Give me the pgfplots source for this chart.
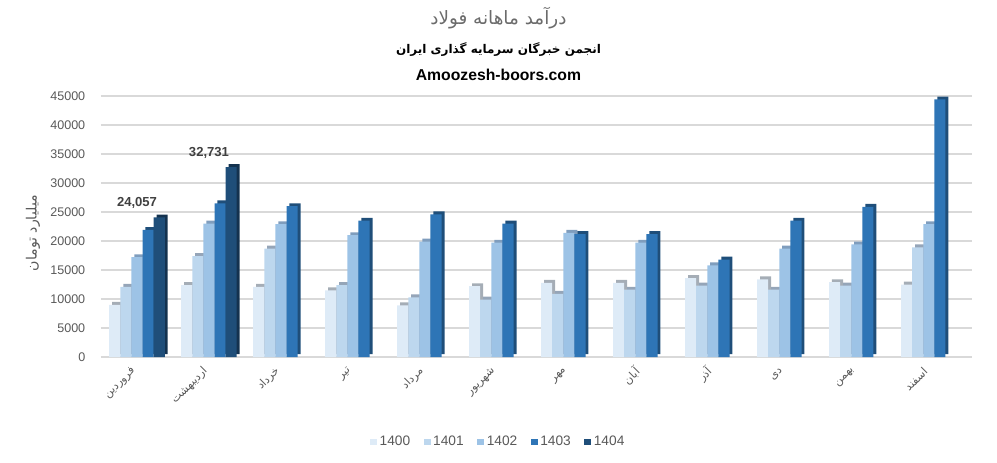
\documentclass[border=0pt]{standalone}
\usepackage{fontspec}
\setmainfont{Liberation Sans}
\newfontfamily\arabicfont[Script=Arabic]{DejaVu Sans}
\usepackage{pgfplots}
\pgfplotsset{compat=1.18}
\TeXXeTstate=1

% front faces of the bars
\definecolor{cA}{HTML}{DEEBF7}
\definecolor{cB}{HTML}{BDD7EE}
\definecolor{cC}{HTML}{9DC3E6}
\definecolor{cD}{HTML}{2E75B6}
\definecolor{cE}{HTML}{1F4E79}
% top/side faces (depth of the columns)
\definecolor{sA}{HTML}{A5ADB6}
\definecolor{sB}{HTML}{95A5B8}
\definecolor{sC}{HTML}{7F9DBD}
\definecolor{sD}{HTML}{1F4E79}
\definecolor{sE}{HTML}{14324F}
\definecolor{txt}{HTML}{595959}
\definecolor{gridc}{HTML}{D9D9D9}

% monthly revenue, billion toman (0 = Farvardin ... 11 = Esfand)
\newcommand{\dA}{(0,9000) (1,12400) (2,12100) (3,11500) (4,8900) (5,12200) (6,12800) (7,12800) (8,13600) (9,13400) (10,12900) (11,12500)}
\newcommand{\dB}{(0,12100) (1,17400) (2,18700) (3,12400) (4,10300) (5,9900) (6,10900) (7,11600) (8,12300) (9,11600) (10,12300) (11,18900)}
\newcommand{\dC}{(0,17200) (1,23000) (2,22900) (3,21000) (4,19900) (5,19700) (6,21400) (7,19700) (8,15800) (9,18700) (10,19400) (11,22900)}
\newcommand{\dD}{(0,21900) (1,26500) (2,26000) (3,23500) (4,24600) (5,23000) (6,21200) (7,21200) (8,16800) (9,23500) (10,25900) (11,44400)}
\newcommand{\dE}{(0,24057) (1,32731)}

\begin{document}
\begin{tikzpicture}
\begin{axis}[
  at={(0,0)}, anchor=south west,
  scale only axis, width=653.25pt, height=195.75pt,
  xmin=-0.5, xmax=11.6, ymin=0, ymax=45000,
  clip=false,
  scaled y ticks=false,
  ytick={0,5000,...,45000},
  xtick={0,...,11},
  xticklabels={{\arabicfont\beginR فروردین\endR},{\arabicfont\beginR اردیبهشت\endR},{\arabicfont\beginR خرداد\endR},{\arabicfont\beginR تیر\endR},{\arabicfont\beginR مرداد\endR},{\arabicfont\beginR شهریور\endR},{\arabicfont\beginR مهر\endR},{\arabicfont\beginR آبان\endR},{\arabicfont\beginR آذر\endR},{\arabicfont\beginR دی\endR},{\arabicfont\beginR بهمن\endR},{\arabicfont\beginR اسفند\endR}},
  xticklabel style={yshift=-7pt, xshift=0pt, rotate=45, anchor=east, font=\fontsize{8.3}{10}\selectfont, text=txt},
  yticklabel style={font=\fontsize{9.4}{11}\selectfont, text=txt, xshift=-8.3pt},
  /pgf/number format/assume math mode=true,
  /pgf/number format/1000 sep={},
  ymajorgrids, grid style={color=gridc, line width=1.1pt},
  axis line style={draw=none},
  major tick length=0pt,
  ylabel={\arabicfont\beginR میلیارد تومان\endR},
  ylabel style={font=\fontsize{10.6}{12}\selectfont, text=txt, at={(-51pt,93pt)}, anchor=center, rotate=0},
  legend columns=5,
  legend style={draw=none, fill=none, at={(0.4564,-0.3257)}, anchor=center,
    font=\fontsize{10.3}{12}\selectfont, text=txt,
    /tikz/every even column/.append style={column sep=8pt}},
  legend image code/.code={\fill[#1] (0pt,-2.6pt) rectangle (5.25pt,2.6pt);},
]
% depth faces, drawn first and offset up and to the right
\addplot[ybar, bar width=8.33pt, bar shift=-16.66pt, fill=sA, draw=none, xshift=2.2pt, yshift=2.2pt, forget plot] coordinates {\dA};
\addplot[ybar, bar width=8.33pt, bar shift=-8.33pt, fill=sB, draw=none, xshift=2.2pt, yshift=2.2pt, forget plot] coordinates {\dB};
\addplot[ybar, bar width=8.33pt, bar shift=0pt, fill=sC, draw=none, xshift=2.2pt, yshift=2.2pt, forget plot] coordinates {\dC};
\addplot[ybar, bar width=8.33pt, bar shift=8.33pt, fill=sD, draw=none, xshift=2.2pt, yshift=2.2pt, forget plot] coordinates {\dD};
\addplot[ybar, bar width=8.33pt, bar shift=16.66pt, fill=sE, draw=none, xshift=2.2pt, yshift=2.2pt, forget plot] coordinates {\dE};
% front faces
\addplot[ybar, bar width=8.33pt, bar shift=-16.66pt, fill=cA, draw=none] coordinates {\dA};
\addplot[ybar, bar width=8.33pt, bar shift=-8.33pt, fill=cB, draw=none] coordinates {\dB};
\addplot[ybar, bar width=8.33pt, bar shift=0pt, fill=cC, draw=none] coordinates {\dC};
\addplot[ybar, bar width=8.33pt, bar shift=8.33pt, fill=cD, draw=none] coordinates {\dD};
\addplot[ybar, bar width=8.33pt, bar shift=16.66pt, fill=cE, draw=none,
  nodes near coords={\pgfmathprintnumber[1000 sep={,}]{\pgfplotspointmeta}},
  every node near coord/.append style={font=\bfseries\fontsize{9.8}{12}\selectfont, text=black!75, yshift=3pt}] coordinates {\dE};
\legend{1400,1401,1402,1403,1404}
\end{axis}
% titles
\node[text=black!58, font=\fontsize{13.8}{16}\selectfont] at (298.1pt,254.25pt) {\arabicfont\beginR درآمد ماهانه فولاد\endR};
\node[text=black, font=\bfseries\fontsize{9}{11}\selectfont] at (298.1pt,230.25pt) {\arabicfont\beginR انجمن خبرگان سرمایه گذاری ایران\endR};
\node[text=black, font=\bfseries\fontsize{11.8}{14}\selectfont] at (298.1pt,211.5pt) {Amoozesh-boors.com};
\pgfresetboundingbox
\path[use as bounding box] (-75.75pt,-78.75pt) rectangle (672pt,267.75pt);
\end{tikzpicture}
\end{document}
